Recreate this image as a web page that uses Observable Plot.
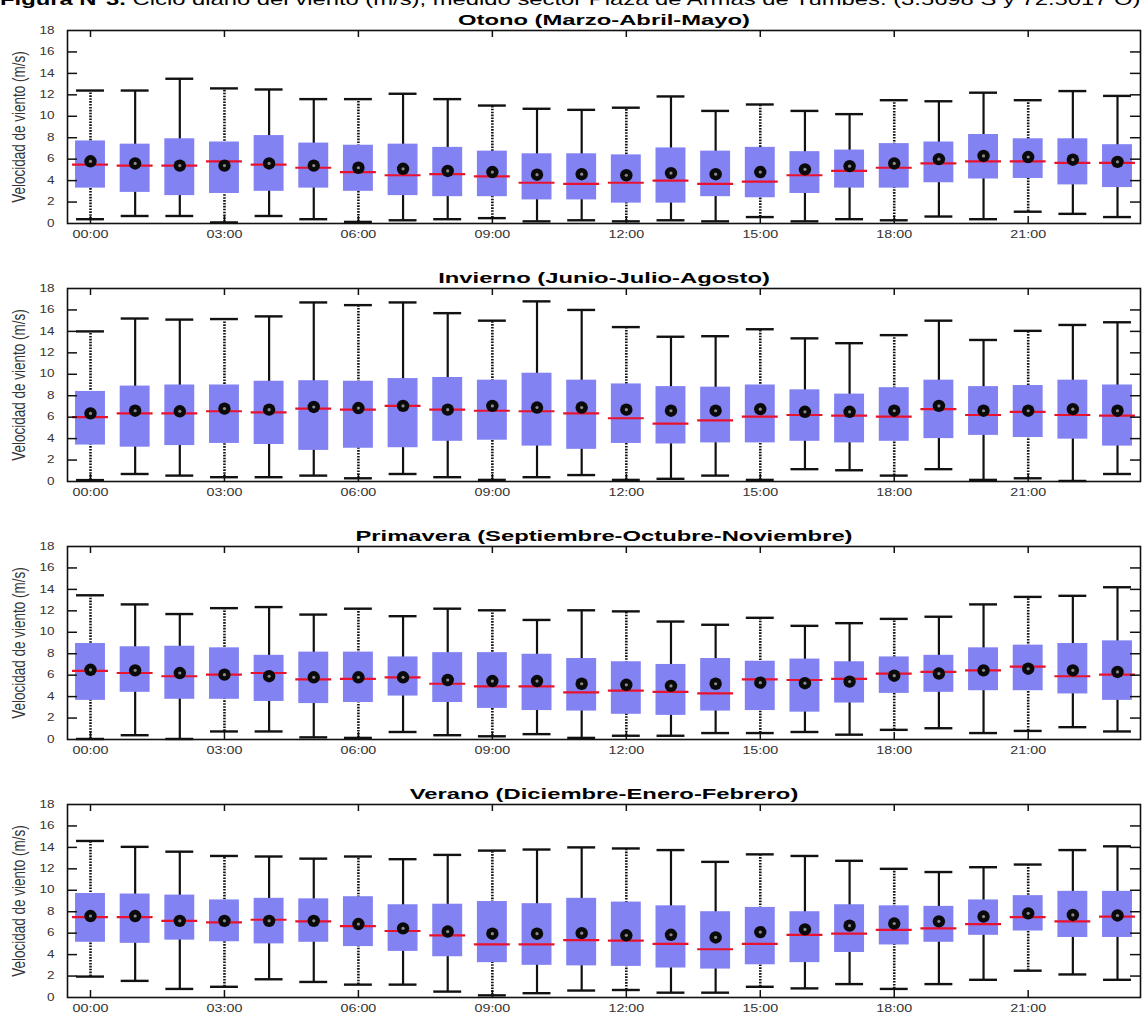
<!DOCTYPE html>
<html><head><meta charset="utf-8">
<script src="https://cdn.jsdelivr.net/npm/d3@7"></script>
<script src="https://cdn.jsdelivr.net/npm/@observablehq/plot@0.6"></script>
<style>
html,body{margin:0;padding:0;background:#fff;overflow:hidden;width:1143px;height:1015px}
#wrap{position:relative;width:1143px;height:1015px;overflow:hidden}
#caption{position:absolute;left:0;top:-9px;font-family:"Liberation Sans",Arial,sans-serif;font-size:17px;line-height:17px;white-space:nowrap;color:#000;transform:scaleX(1.4);transform-origin:0 0}
.panel{position:absolute;left:0}
svg{display:block}
</style></head><body>
<div id="wrap"><div id="caption"><b>Figura N°3.</b> Ciclo diario del viento (m/s), medido sector Plaza de Armas de Tumbes. (3.5698 S y 72.5017 O)</div></div>
<script>
const hours = d3.range(24);
const hourTicks = [0, 3, 6, 9, 12, 15, 18, 21];
const yTicks = [0, 2, 4, 6, 8, 10, 12, 14, 16, 18];
const seasonTitles = ["Otono (Marzo-Abril-Mayo)", "Invierno (Junio-Julio-Agosto)", "Primavera (Septiembre-Octubre-Noviembre)", "Verano (Diciembre-Enero-Febrero)"];
const yLabel = "Velocidad de viento (m/s)";

// Otono
const otonoLow  = [0.4,0.7,0.7,0.1,0.7,0.4,0.15,0.3,0.4,0.5,0.2,0.3,0.2,0.3,0.2,0.6,0.2,0.4,0.3,0.65,0.4,1.1,0.9,0.6];
const otonoQ1   = [3.3,2.9,2.6,2.8,3.0,3.3,3.0,2.6,2.5,2.5,2.2,2.2,1.9,1.9,2.5,2.4,2.8,3.3,3.3,3.8,4.15,4.2,3.6,3.35];
const otonoMed  = [5.5,5.4,5.4,5.8,5.5,5.2,4.8,4.5,4.6,4.4,3.8,3.7,3.8,4.0,3.7,3.9,4.5,4.9,5.2,5.6,5.8,5.8,5.65,5.65];
const otonoQ3   = [7.7,7.4,7.9,7.6,8.2,7.5,7.3,7.4,7.1,6.75,6.5,6.5,6.4,7.05,6.75,7.1,6.7,6.85,7.45,7.6,8.3,7.9,7.9,7.35];
const otonoHigh = [12.4,12.4,13.5,12.6,12.5,11.6,11.6,12.1,11.6,11.0,10.7,10.6,10.8,11.85,10.5,11.1,10.5,10.2,11.5,11.4,12.2,11.5,12.35,11.9];
const otonoMean = [5.8,5.6,5.4,5.4,5.6,5.4,5.2,5.1,4.9,4.8,4.55,4.6,4.5,4.7,4.6,4.8,5.05,5.35,5.6,6.0,6.3,6.2,5.95,5.75];

// Invierno
const inviernoLow  = [0.13,0.7,0.55,0.4,0.4,0.55,0.3,0.7,0.4,0.15,0.4,0.6,0.15,0.25,0.55,0.15,1.15,1.05,0.55,1.15,0.15,0.3,0.05,0.7];
const inviernoQ1   = [3.4,3.2,3.35,3.55,3.45,2.9,3.1,3.15,3.75,3.85,3.3,3.0,3.55,3.5,3.6,3.6,3.75,3.6,3.75,4.0,4.3,4.1,3.95,3.3];
const inviernoMed  = [6.0,6.35,6.35,6.55,6.45,6.8,6.7,7.05,6.7,6.6,6.55,6.35,5.9,5.4,5.7,6.05,6.2,6.15,6.05,6.75,6.2,6.5,6.2,6.15];
const inviernoQ3   = [8.4,8.9,9.0,9.0,9.35,9.4,9.35,9.6,9.7,9.45,10.1,9.45,9.1,8.85,8.8,9.0,8.55,8.15,8.75,9.45,8.85,8.95,9.45,9.0];
const inviernoHigh = [14.0,15.2,15.1,15.15,15.4,16.7,16.45,16.7,15.7,15.0,16.8,16.0,14.4,13.5,13.55,14.2,13.35,12.9,13.65,15.0,13.2,14.05,14.6,14.85];
const inviernoMean = [6.35,6.6,6.55,6.8,6.7,6.95,6.85,7.05,6.7,7.05,6.9,6.9,6.7,6.6,6.6,6.75,6.5,6.5,6.6,7.05,6.6,6.6,6.75,6.6];

// Primavera
const primaveraLow  = [0.05,0.4,0.05,0.75,0.75,0.2,0.15,0.7,0.4,0.3,0.5,0.15,0.35,0.35,0.6,0.6,0.7,0.45,0.9,1.05,0.6,0.8,1.15,0.75];
const primaveraQ1   = [3.65,4.4,3.75,3.75,3.55,3.35,3.45,4.05,3.45,2.9,2.7,2.65,2.35,2.25,2.65,2.7,2.55,3.4,4.3,4.4,4.55,4.55,4.25,3.65];
const primaveraMed  = [6.4,6.2,5.9,6.05,6.2,5.6,5.65,5.8,5.2,4.95,4.95,4.4,4.55,4.45,4.3,5.6,5.55,5.65,6.15,6.3,6.45,6.8,5.9,6.05];
const primaveraQ3   = [8.95,8.65,8.7,8.55,7.85,8.15,8.15,7.7,8.1,8.1,7.95,7.55,7.25,7.0,7.55,7.3,7.5,7.25,7.7,7.85,8.55,8.8,8.95,9.2];
const primaveraHigh = [13.45,12.6,11.7,12.25,12.35,11.65,12.2,11.5,12.2,12.05,11.15,12.05,11.95,11.0,10.7,11.35,10.6,10.85,11.25,11.45,12.6,13.3,13.4,14.2];
const primaveraMean = [6.5,6.45,6.2,6.05,5.9,5.8,5.8,5.8,5.55,5.45,5.45,5.2,5.1,5.0,5.2,5.3,5.25,5.4,5.95,6.15,6.45,6.6,6.45,6.3];

// Verano
const veranoLow  = [1.95,1.55,0.8,1.0,1.7,1.45,1.2,1.2,0.55,0.2,0.4,0.65,0.7,0.45,0.45,1.0,0.85,1.25,0.8,1.25,1.65,2.5,2.15,1.65];
const veranoQ1   = [5.15,5.05,5.35,5.2,5.0,5.15,4.75,4.3,3.8,3.25,3.0,2.95,2.9,2.75,2.65,3.05,3.25,4.2,4.9,5.15,5.8,6.2,5.6,5.6];
const veranoMed  = [7.5,7.5,7.15,7.0,7.25,7.1,6.65,6.2,5.8,4.95,4.95,5.35,5.3,5.0,4.5,5.0,5.85,5.95,6.3,6.45,6.85,7.5,7.1,7.55];
const veranoQ3   = [9.7,9.65,9.55,9.1,9.25,9.2,9.4,8.65,8.7,8.95,8.75,9.25,8.9,8.55,8.0,8.4,8.0,8.65,8.55,8.5,9.1,9.5,9.9,9.9];
const veranoHigh = [14.6,14.05,13.6,13.2,13.15,12.95,13.15,12.9,13.3,13.7,13.8,14.0,13.9,13.75,12.65,13.35,13.2,12.75,12.0,11.7,12.15,12.4,13.75,14.1];
const veranoMean = [7.6,7.6,7.15,7.15,7.15,7.15,6.85,6.45,6.15,5.95,5.95,6.0,5.8,5.85,5.6,6.1,6.35,6.7,6.9,7.1,7.55,7.85,7.7,7.65];

const seasonData = [
  [otonoLow, otonoQ1, otonoMed, otonoQ3, otonoHigh, otonoMean],
  [inviernoLow, inviernoQ1, inviernoMed, inviernoQ3, inviernoHigh, inviernoMean],
  [primaveraLow, primaveraQ1, primaveraMed, primaveraQ3, primaveraHigh, primaveraMean],
  [veranoLow, veranoQ1, veranoMed, veranoQ3, veranoHigh, veranoMean]
];

const W = 1143, H = 258, MT = 26, MB = 39, ML = 67, MR = 3;
const frameW = W - ML - MR, frameH = H - MT - MB;
const boxColor = "#8282f2";
const medColor = "#e8122e";
const fmt = d => String(d).padStart(2, "0") + ":00";
const font = "'Liberation Sans', Arial, sans-serif";

function stretchText(t, sx, sy) {
  let tr = t.getAttribute("transform");
  if (!tr || !/translate/.test(tr)) {
    const x = +(t.getAttribute("x") || 0), y = +(t.getAttribute("y") || 0);
    t.removeAttribute("x"); t.removeAttribute("y");
    tr = `translate(${x},${y}) ${tr || ""}`;
  }
  t.setAttribute("transform", `${tr} scale(${sx},${sy})`);
}

const wrap = document.getElementById("wrap");
seasonData.forEach(([low, q1, med, q3, high, mean], si) => {
  const rows = hours.map((h, i) => ({hour: h, low: low[i], q1: q1[i], med: med[i], q3: q3[i], high: high[i], mean: mean[i], dotted: h % 3 === 0}));
  const svg = Plot.plot({
    width: W, height: H, marginTop: MT, marginBottom: MB, marginLeft: ML, marginRight: MR,
    style: {background: "transparent", fontFamily: font, fontSize: "11px", overflow: "visible"},
    x: {type: "band", domain: hours, paddingInner: 0.33, paddingOuter: 0.18, round: false},
    y: {domain: [0, 18]},
    marks: [
      Plot.axisX(hourTicks, {tickSize: 0, tickPadding: 7, tickFormat: fmt, fontSize: 11, fill: "#333", label: null}),
      Plot.axisY(yTicks, {tickSize: 0, tickPadding: 13, fontSize: 10, fill: "#333", label: null}),
      Plot.ruleX(rows.filter(d => !d.dotted), {x: "hour", y1: "low", y2: "high", stroke: "#111", strokeWidth: 2.2}),
      Plot.ruleX(rows.filter(d => d.dotted), {x: "hour", y1: "low", y2: "high", stroke: "#111", strokeWidth: 2.6, strokeDasharray: "1.6,1.3"}),
      Plot.tickY(rows, {x: "hour", y: "high", stroke: "#111", strokeWidth: 2.4, insetLeft: 1, insetRight: 1}),
      Plot.tickY(rows, {x: "hour", y: "low", stroke: "#111", strokeWidth: 2.4, insetLeft: 1, insetRight: 1}),
      Plot.barY(rows, {x: "hour", y1: "q1", y2: "q3", fill: boxColor}),
      Plot.tickY(rows, {x: "hour", y: "med", stroke: medColor, strokeWidth: 2.2, insetLeft: -3, insetRight: -3}),
      Plot.dot(rows, {x: "hour", y: "mean", r: 6.2, fill: "#0a0a0a", stroke: "none"}),
      Plot.dot(rows, {x: "hour", y: "mean", r: 1.6, fill: "#8a8a8a", stroke: "none"}),
      Plot.tickY(yTicks.slice(1, -1), {y: d => d, insetRight: frameW - 10, stroke: "#111", strokeWidth: 1.5}),
      Plot.tickY(yTicks.slice(1, -1), {y: d => d, insetLeft: frameW - 10, stroke: "#111", strokeWidth: 1.5}),
      Plot.tickX(hourTicks, {x: d => d, insetBottom: frameH - 7, stroke: "#111", strokeWidth: 1.5}),
      Plot.tickX(hourTicks, {x: d => d, insetTop: frameH - 7, stroke: "#111", strokeWidth: 1.5}),
      Plot.frame({stroke: "#111", strokeWidth: 1.6}),
      Plot.text([seasonTitles[si]], {text: d => d, frameAnchor: "top", textAnchor: "middle", dy: -15, fontSize: 14, fontWeight: "bold", fill: "#000"}),
      Plot.text([yLabel], {text: d => d, frameAnchor: "left", textAnchor: "middle", dx: -48, rotate: -90, fontSize: 13.5, fill: "#333"})
    ]
  });
  svg.querySelectorAll("text").forEach(t => {
    const s = t.textContent.trim();
    if (s === seasonTitles[si]) stretchText(t, 1.7, 1);
    else if (s === yLabel) stretchText(t, 1, 1.3);
    else if (/^\d\d:00$/.test(s)) stretchText(t, 1.3, 1);
    else if (/^\d+$/.test(s)) stretchText(t, 1.35, 1);
  });
  const div = document.createElement("div");
  div.className = "panel";
  div.style.top = (4 + 258 * si) + "px";
  div.appendChild(svg);
  wrap.appendChild(div);
});
</script>
</body></html>
